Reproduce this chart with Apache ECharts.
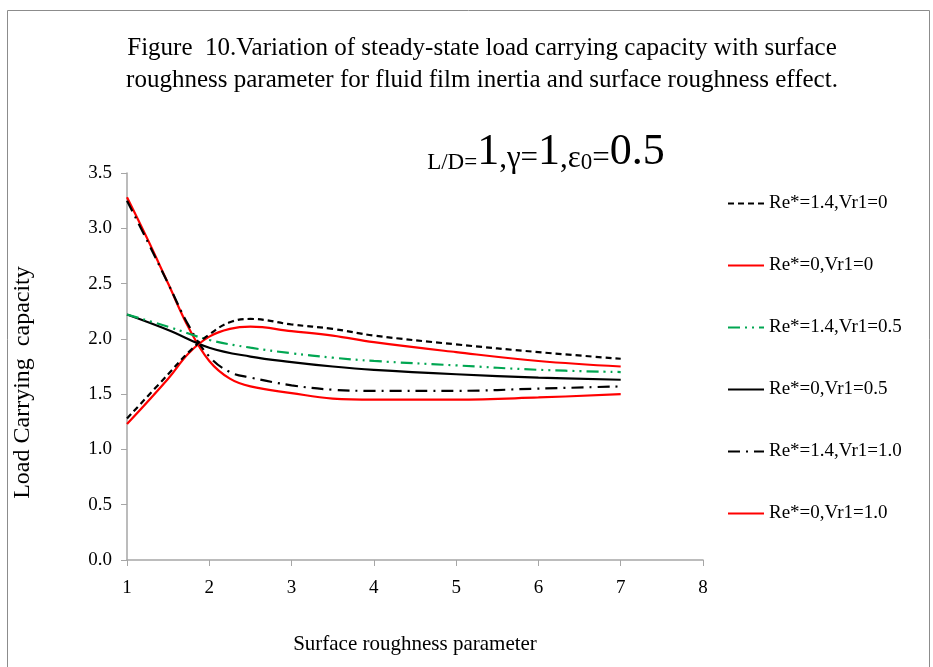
<!DOCTYPE html>
<html><head><meta charset="utf-8">
<script src="https://cdn.jsdelivr.net/npm/echarts@6/dist/echarts.min.js"></script>
<style>html,body{margin:0;padding:0;background:#fff}#c{width:933px;height:667px}</style>
</head><body><div id="c"></div>
<script>
const seriesNames = ['Re*=1.4,Vr1=0','Re*=0,Vr1=0','Re*=1.4,Vr1=0.5','Re*=0,Vr1=0.5','Re*=1.4,Vr1=1.0','Re*=0,Vr1=1.0'];
const xA = [1, 1.5, 1.75, 2, 2.25, 2.5, 3, 3.5, 4, 5, 6, 7];
const s1 = [1.28, 1.68, 1.88, 2.04, 2.15, 2.18, 2.13, 2.09, 2.03, 1.95, 1.88, 1.82];
const s2 = [1.23, 1.64, 1.87, 2.02, 2.09, 2.11, 2.07, 2.03, 1.97, 1.88, 1.80, 1.75];
const xB = [1, 1.5, 2, 2.5, 3, 3.5, 4, 5, 6, 7];
const s3 = [2.22, 2.11, 1.99, 1.92, 1.87, 1.83, 1.80, 1.76, 1.72, 1.70];
const s4 = [2.22, 2.08, 1.92, 1.84, 1.79, 1.75, 1.72, 1.68, 1.65, 1.63];
const xC = [1, 1.25, 1.5, 1.75, 2, 2.25, 2.5, 3, 3.5, 4, 5, 6, 7];
const s5 = [3.25, 2.88, 2.50, 2.12, 1.84, 1.70, 1.65, 1.58, 1.54, 1.53, 1.53, 1.55, 1.57];
const s6 = [3.28, 2.90, 2.50, 2.10, 1.80, 1.64, 1.57, 1.51, 1.46, 1.45, 1.45, 1.47, 1.50];
const xTicks = {min: 1, max: 8, interval: 1};
const yTicks = {min: 0, max: 3.5, interval: 0.5};

const zip = (xs, ys) => xs.map((x, i) => [x, ys[i]]);
const font = '"Liberation Serif","Times New Roman",serif';
const styles = [
  {color: '#000', type: [6, 4]},
  {color: '#ff0000', type: 'solid'},
  {color: '#00a651', type: [12, 5, 2, 5, 2, 5]},
  {color: '#000', type: 'solid'},
  {color: '#000', type: [12, 6, 2, 6]},
  {color: '#ff0000', type: 'solid'}
];
const dataSets = [zip(xA, s1), zip(xA, s2), zip(xB, s3), zip(xB, s4), zip(xC, s5), zip(xC, s6)];

const chart = echarts.init(document.getElementById('c'), null, {renderer: 'canvas'});
chart.setOption({
  backgroundColor: '#fff',
  animation: false,
  textStyle: {fontFamily: font},
  title: [{
    text: 'Figure  10.Variation of steady-state load carrying capacity with surface\nroughness parameter for fluid film inertia and surface roughness effect.',
    left: 477, top: 27, textAlign: 'center',
    textStyle: {fontFamily: font, fontSize: 25, fontWeight: 'normal', color: '#000', lineHeight: 32}
  }, {
    text: '{s|L/D=}{b|1}{m|,γ=}{b|1}{m|,ε}{s|0}{m|=}{b|0.5}',
    left: 541, top: 125, textAlign: 'center',
    textStyle: {fontWeight: 'normal', rich: {
      s: {fontFamily: font, fontSize: 23, fontWeight: 'normal', color: '#000', verticalAlign: 'bottom'},
      m: {fontFamily: font, fontSize: 31, fontWeight: 'normal', color: '#000', verticalAlign: 'bottom'},
      b: {fontFamily: font, fontSize: 44, fontWeight: 'normal', color: '#000', verticalAlign: 'bottom'}
    }}
  }],
  graphic: [{type: 'rect', shape: {x: 7.5, y: 10.5, width: 922, height: 665}, style: {fill: 'none', stroke: '#8c8c8c', lineWidth: 1}}],
  grid: {left: 127, top: 173, right: 230, bottom: 107},
  legend: {
    orient: 'vertical', left: 722, top: 189,
    itemWidth: 36, itemHeight: 16, itemGap: 43,
    data: seriesNames,
    itemStyle: {opacity: 0},
    textStyle: {fontFamily: font, fontSize: 19, color: '#000', padding: [0, 0, 0, 0]}
  },
  xAxis: {
    type: 'value', min: xTicks.min, max: xTicks.max, interval: xTicks.interval,
    name: 'Surface roughness parameter', nameLocation: 'middle', nameGap: 74,
    nameTextStyle: {fontFamily: font, fontSize: 21, color: '#000'},
    axisLine: {lineStyle: {color: '#a6a6a6', width: 1.5}},
    axisTick: {show: true, length: 6, lineStyle: {color: '#a6a6a6'}},
    axisLabel: {fontFamily: font, fontSize: 19, color: '#000', margin: 19},
    splitLine: {show: false}
  },
  yAxis: {
    type: 'value', min: yTicks.min, max: yTicks.max, interval: yTicks.interval,
    name: 'Load Carrying  capacity', nameLocation: 'middle', nameGap: 92,
    nameTextStyle: {fontFamily: font, fontSize: 24, color: '#000', padding: [0, 32, 0, 0]},
    axisLine: {show: true, lineStyle: {color: '#a6a6a6', width: 1.5}},
    axisTick: {show: true, length: 6, lineStyle: {color: '#a6a6a6'}},
    axisLabel: {fontFamily: font, fontSize: 19, color: '#000', margin: 15, formatter: v => v.toFixed(1)},
    splitLine: {show: false}
  },
  series: seriesNames.map((n, i) => ({
    name: n, type: 'line', data: dataSets[i], smooth: 0.4,
    symbol: 'none', showSymbol: false,
    lineStyle: {color: styles[i].color, type: styles[i].type, width: 2.2},
    itemStyle: {color: styles[i].color},
    z: 10 - i
  }))
});
</script></body></html>
